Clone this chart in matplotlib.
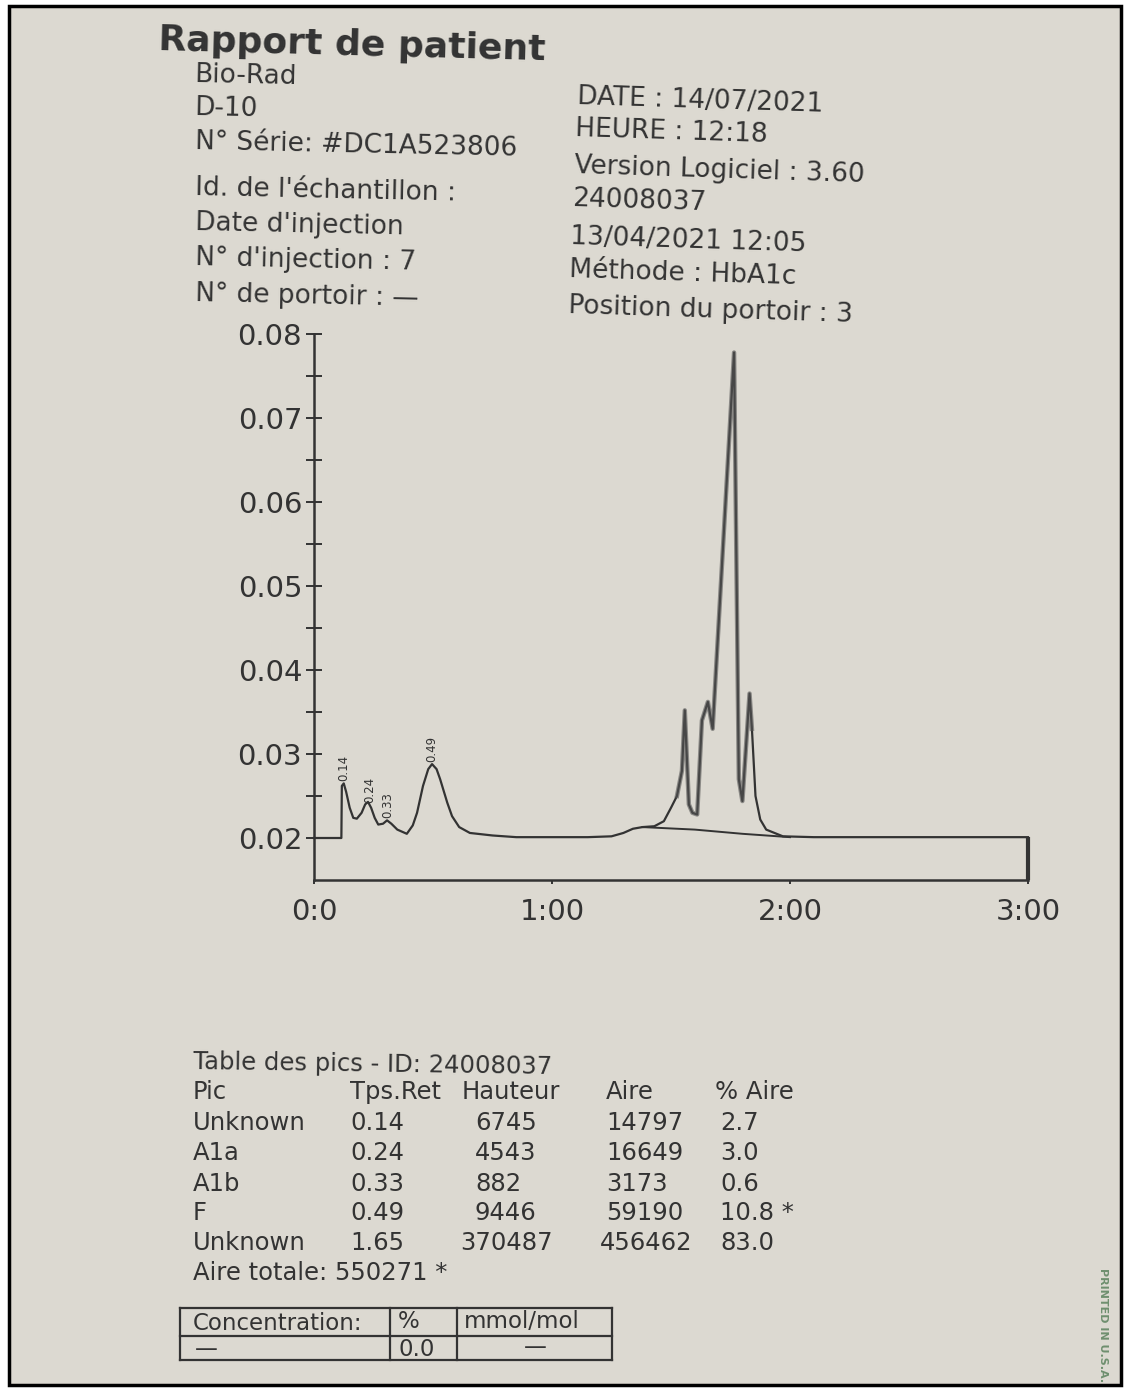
import numpy as np
import matplotlib.pyplot as plt
from matplotlib.patches import Rectangle
from matplotlib.lines import Line2D

# chromatogram trace (time in min, signal)
time_min = [0.00, 0.115, 0.117, 0.125, 0.135, 0.150, 0.165, 0.180, 0.200, 0.215,
            0.227, 0.240, 0.255, 0.270, 0.290, 0.307, 0.325, 0.350, 0.390, 0.415,
            0.433, 0.458, 0.480, 0.496, 0.515, 0.530, 0.560, 0.580, 0.610, 0.655,
            0.750, 0.850, 1.000, 1.150, 1.250, 1.300, 1.340, 1.380, 1.430, 1.470,
            1.500, 1.525, 1.546, 1.558, 1.575, 1.590, 1.610, 1.630, 1.655, 1.675,
            1.765, 1.785, 1.800, 1.830, 1.840, 1.855, 1.875, 1.900, 1.970, 2.100,
            2.500, 3.000]
signal = [0.0200, 0.0200, 0.0262, 0.0265, 0.0255, 0.0236, 0.0224, 0.0223, 0.0230, 0.0240,
          0.0243, 0.0236, 0.0224, 0.0216, 0.0217, 0.0221, 0.0217, 0.0210, 0.0205, 0.0215,
          0.0230, 0.0262, 0.0282, 0.0288, 0.0282, 0.0270, 0.0242, 0.0226, 0.0213, 0.0206,
          0.0203, 0.0201, 0.0201, 0.0201, 0.0202, 0.0206, 0.0211, 0.0213, 0.0214, 0.0220,
          0.0236, 0.0250, 0.0280, 0.0352, 0.0240, 0.0230, 0.0228, 0.0340, 0.0362, 0.0330,
          0.0778, 0.0270, 0.0244, 0.0372, 0.0330, 0.0250, 0.0222, 0.0210, 0.0202, 0.0201,
          0.0201, 0.0201]

# integration baseline under the main cluster
base_t = [1.38, 1.60, 1.80, 2.00]
base_v = [0.0213, 0.0210, 0.0205, 0.0201]

peak_labels = ['0.14', '0.24', '0.33', '0.49']
peak_label_t = [0.125, 0.235, 0.31, 0.496]

yticks = [0.02, 0.03, 0.04, 0.05, 0.06, 0.07, 0.08]
ytick_labels = ['0.02', '0.03', '0.04', '0.05', '0.06', '0.07', '0.08']
xticks = [0, 1, 2, 3]
xtick_labels = ['0:0', '1:00', '2:00', '3:00']

left_info = ['Bio-Rad', 'D-10', 'N° Série: #DC1A523806', "Id. de l'échantillon :",
             "Date d'injection", "N° d'injection : 7", 'N° de portoir : —']
right_info = ['DATE : 14/07/2021', 'HEURE : 12:18', 'Version Logiciel : 3.60', '24008037',
              '13/04/2021 12:05', 'Méthode : HbA1c', 'Position du portoir : 3']

col_heads = ['Pic', 'Tps.Ret', 'Hauteur', 'Aire', '% Aire']
peak_names = ['Unknown', 'A1a', 'A1b', 'F', 'Unknown']
ret_times = ['0.14', '0.24', '0.33', '0.49', '1.65']
heights = ['6745', '4543', '882', '9446', '370487']
areas = ['14797', '16649', '3173', '59190', '456462']
pct_area = ['2.7', '3.0', '0.6', '10.8 *', '83.0']
total_area = '550271 *'

PAPER = '#dcd9d1'
INK = '#333333'

W, H = 1126, 1389
fig = plt.figure(figsize=(W / 100, H / 100), dpi=100)
fig.patch.set_facecolor('white')

def fx(x):
    return x / W

def fy(y):
    return 1 - y / H

fig.add_artist(Rectangle((fx(9), fy(1385)), fx(1121) - fx(9), fy(6) - fy(1385),
                         transform=fig.transFigure, facecolor=PAPER,
                         edgecolor='black', lw=2.5, zorder=0))

#%% header
fig.text(fx(158), fy(40), 'Rapport de patient', fontsize=26, fontweight='bold',
         color=INK, ha='left', va='center', rotation=-1.5, rotation_mode='anchor')
left_y = [75, 108, 142, 188, 223, 258, 294]
for s, y in zip(left_info, left_y):
    fig.text(fx(195), fy(y), s, fontsize=19, color=INK, ha='left', va='center',
             rotation=-1.2, rotation_mode='anchor')
right_y = [97, 129, 166, 199, 237, 270, 306]
right_x = [577, 575, 574, 572, 570, 569, 568]
for s, x, y in zip(right_info, right_x, right_y):
    fig.text(fx(x), fy(y), s, fontsize=19, color=INK, ha='left', va='center',
             rotation=-1.8, rotation_mode='anchor')

#%% chromatogram
ax = fig.add_axes([fx(314), fy(880), fx(1028) - fx(314), (880 - 334) / H])
ax.set_facecolor('none')
ax.set_xlim(0, 3)
ax.set_ylim(0.015, 0.08)

t = np.array(time_min)
v = np.array(signal)
ax.plot(t, v, color=INK, lw=1.6, clip_on=False)
cluster = (t >= 1.52) & (t <= 1.85)
ax.plot(t[cluster], v[cluster], color='#555555', lw=3.2, alpha=0.6, clip_on=False)
ax.plot(base_t, base_v, color=INK, lw=1.4)
ax.vlines(t[-1], 0.015, v[-1], color=INK, lw=3, clip_on=False)

for lab, lt in zip(peak_labels, peak_label_t):
    ax.text(lt, np.interp(lt, t, v) + 0.0003, lab, rotation=90, fontsize=8.5,
            color=INK, ha='center', va='bottom')

for side in ['top', 'right']:
    ax.spines[side].set_visible(False)
for side in ['left', 'bottom']:
    ax.spines[side].set_color(INK)
    ax.spines[side].set_linewidth(1.8)

ax.set_yticks(yticks)
ax.set_yticklabels(ytick_labels)
ax.set_yticks(np.arange(0.025, 0.08, 0.01), minor=True)
ax.tick_params(axis='y', which='both', direction='inout', length=11, width=1.4,
               colors=INK, labelsize=21, pad=3)
ax.set_xticks(xticks)
ax.set_xticklabels(xtick_labels)
ax.tick_params(axis='x', direction='out', length=3, width=1.4, colors=INK,
               labelsize=21, pad=10)

#%% peak table
fig.text(fx(193), fy(1062), 'Table des pics - ID: 24008037', fontsize=17.5,
         color=INK, ha='left', va='center', rotation=-0.8, rotation_mode='anchor')
col_x = [193, 350, 475, 606, 720]
row_y = [1123, 1153, 1184, 1213, 1243]
for s, x in zip(col_heads, [193, 350, 462, 606, 715]):
    fig.text(fx(x), fy(1092), s, fontsize=17.5, color=INK, ha='left', va='center')
for i, y in enumerate(row_y):
    vals = [peak_names[i], ret_times[i], heights[i], areas[i], pct_area[i]]
    xs = list(col_x)
    if len(heights[i]) > 4:
        xs[2] = 460
    if len(areas[i]) > 5:
        xs[3] = 600
    for s, x in zip(vals, xs):
        fig.text(fx(x), fy(y), s, fontsize=17.5, color=INK, ha='left', va='center')
fig.text(fx(193), fy(1273), 'Aire totale: ' + total_area, fontsize=17.5,
         color=INK, ha='left', va='center')

# concentration box
box_l, box_r, box_t, box_m, box_b = 180, 612, 1308, 1336, 1360
for (x0, y0, x1, y1) in [(box_l, box_t, box_r, box_t), (box_l, box_m, box_r, box_m),
                         (box_l, box_b, box_r, box_b), (box_l, box_t, box_l, box_b),
                         (390, box_t, 390, box_b), (457, box_t, 457, box_b),
                         (box_r, box_t, box_r, box_b)]:
    fig.add_artist(Line2D([fx(x0), fx(x1)], [fy(y0), fy(y1)], transform=fig.transFigure,
                          color=INK, lw=1.6))
fig.text(fx(193), fy(1323), 'Concentration:', fontsize=16.5, color=INK, ha='left', va='center')
fig.text(fx(398), fy(1322), '%', fontsize=16.5, color=INK, ha='left', va='center')
fig.text(fx(464), fy(1321), 'mmol/mol', fontsize=16.5, color=INK, ha='left', va='center')
fig.text(fx(195), fy(1350), '—', fontsize=16.5, color=INK, ha='left', va='center')
fig.text(fx(398), fy(1350), '0.0', fontsize=16.5, color=INK, ha='left', va='center')
fig.text(fx(535), fy(1348), '—', fontsize=16.5, color=INK, ha='center', va='center')

fig.text(fx(1103), fy(1325), 'PRINTED IN U.S.A.', fontsize=8, fontweight='bold',
         color='#6f8f6f', rotation=-90, ha='center', va='center')

plt.savefig('out.png', dpi=100)
